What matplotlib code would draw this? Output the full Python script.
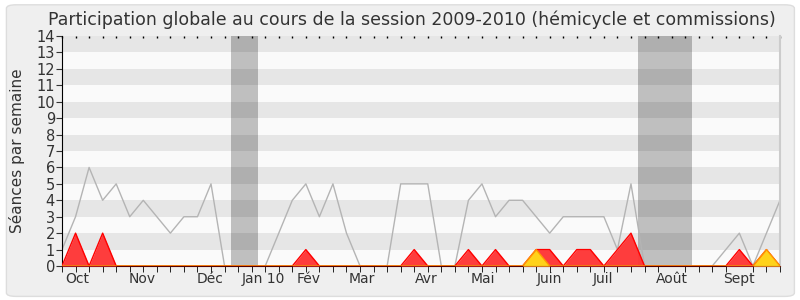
import matplotlib
matplotlib.use("Agg")
import matplotlib.pyplot as plt
from matplotlib.patches import FancyBboxPatch
import numpy as np

title = "Participation globale au cours de la session 2009-2010 (hémicycle et commissions)"
ylabel = "Séances par semaine"

total = [1, 3, 6, 4, 5, 3, 4, 3, 2, 3, 3, 5, 0, 0, 0, 0, 2, 4, 5, 3, 5, 2, 0, 0, 0, 5, 5,
         5, 0, 0, 4, 5, 3, 4, 4, 3, 2, 3, 3, 3, 3, 1, 5, 0, 0, 0, 0, 0, 0, 1, 2, 0, 2, 4]
red = [0, 2, 0, 2, 0, 0, 0, 0, 0, 0, 0, 0, 0, 0, 0, 0, 0, 0, 1, 0, 0, 0, 0, 0, 0, 0, 1,
       0, 0, 0, 1, 0, 1, 0, 0, 1, 1, 0, 1, 1, 0, 1, 2, 0, 0, 0, 0, 0, 0, 0, 1, 0, 1, 0]
yellow = [0] * 35 + [1] + [0] * 16 + [1, 0]

holidays = [(12.5, 14.5), (42.5, 46.5)]
month_labels = ["Oct", "Nov", "Déc", "Jan 10", "Fév", "Mar", "Avr", "Mai", "Juin", "Juil", "Août", "Sept"]
month_pos = [1.1, 5.9, 10.9, 14.9, 18.2, 22.1, 26.9, 31.1, 35.95, 39.9, 45.0, 50.0]

weeks = np.arange(len(total))

fig = plt.figure(figsize=(8, 3), dpi=100)
fig.patch.set_facecolor("white")
bg = FancyBboxPatch((0.008, 0.012), 0.985, 0.972, boxstyle="round,pad=0,rounding_size=0.012",
                    transform=fig.transFigure, facecolor="#efefef", edgecolor="#dddddd",
                    linewidth=1, zorder=-10)
fig.patches.append(bg)

ax = fig.add_axes([0.0775, 0.1133, 0.8975, 0.7667])
ax.set_facecolor("#fafafa")
ax.set_xlim(0, len(total) - 1)
ax.set_ylim(0, 14)

for k in range(1, 14, 2):
    ax.axhspan(k, k + 1, color="#e6e6e6", zorder=0, linewidth=0)

for a, b in holidays:
    ax.axvspan(a, b, color="black", alpha=0.235, zorder=1, linewidth=0)

ax.plot(weeks, total, color="#b4b4b4", linewidth=1, zorder=2)
ax.fill_between(weeks, red, color="#ff3333", alpha=0.95, zorder=3, linewidth=0)
ax.plot(weeks, red, color="#ff0000", linewidth=1, zorder=3)
ax.fill_between(weeks, yellow, color="#ffd21a", zorder=4, linewidth=0)
ax.plot(weeks, yellow, color="#ff9900", linewidth=1, zorder=4)
ax.plot(weeks, [0] * len(weeks), color="#336600", linewidth=0.8, zorder=4.5)

ax.set_yticks(range(0, 15))
ax.tick_params(axis="y", labelsize=10.5, colors="#333333", length=4, direction="out", pad=1)
ax.set_xticks(month_pos)
ax.set_xticklabels(month_labels)
ax.tick_params(axis="x", which="major", length=0, labelsize=10, colors="#333333", pad=4)
ax.set_xticks(weeks, minor=True)
ax.tick_params(axis="x", which="minor", length=4, direction="out", color="black")

top = ax.secondary_xaxis("top")
top.set_xticks([])
top.set_xticks(weeks, minor=True)
top.tick_params(which="minor", direction="in", length=1.5, width=1, color="black")
top.tick_params(which="major", length=0, labelsize=0)
top.spines["top"].set_visible(False)

ax.spines["top"].set_visible(False)
ax.spines["right"].set_color("#cccccc")
ax.spines["right"].set_linewidth(1.5)
ax.spines["left"].set_color("black")
ax.spines["bottom"].set_color("#550000")

ax.set_ylabel(ylabel, fontsize=11, color="#333333", labelpad=8)
fig.text(0.515, 0.935, title, ha="center", va="center", fontsize=12.5, color="#333333")

fig.savefig("out.png", dpi=100, facecolor=fig.get_facecolor())
